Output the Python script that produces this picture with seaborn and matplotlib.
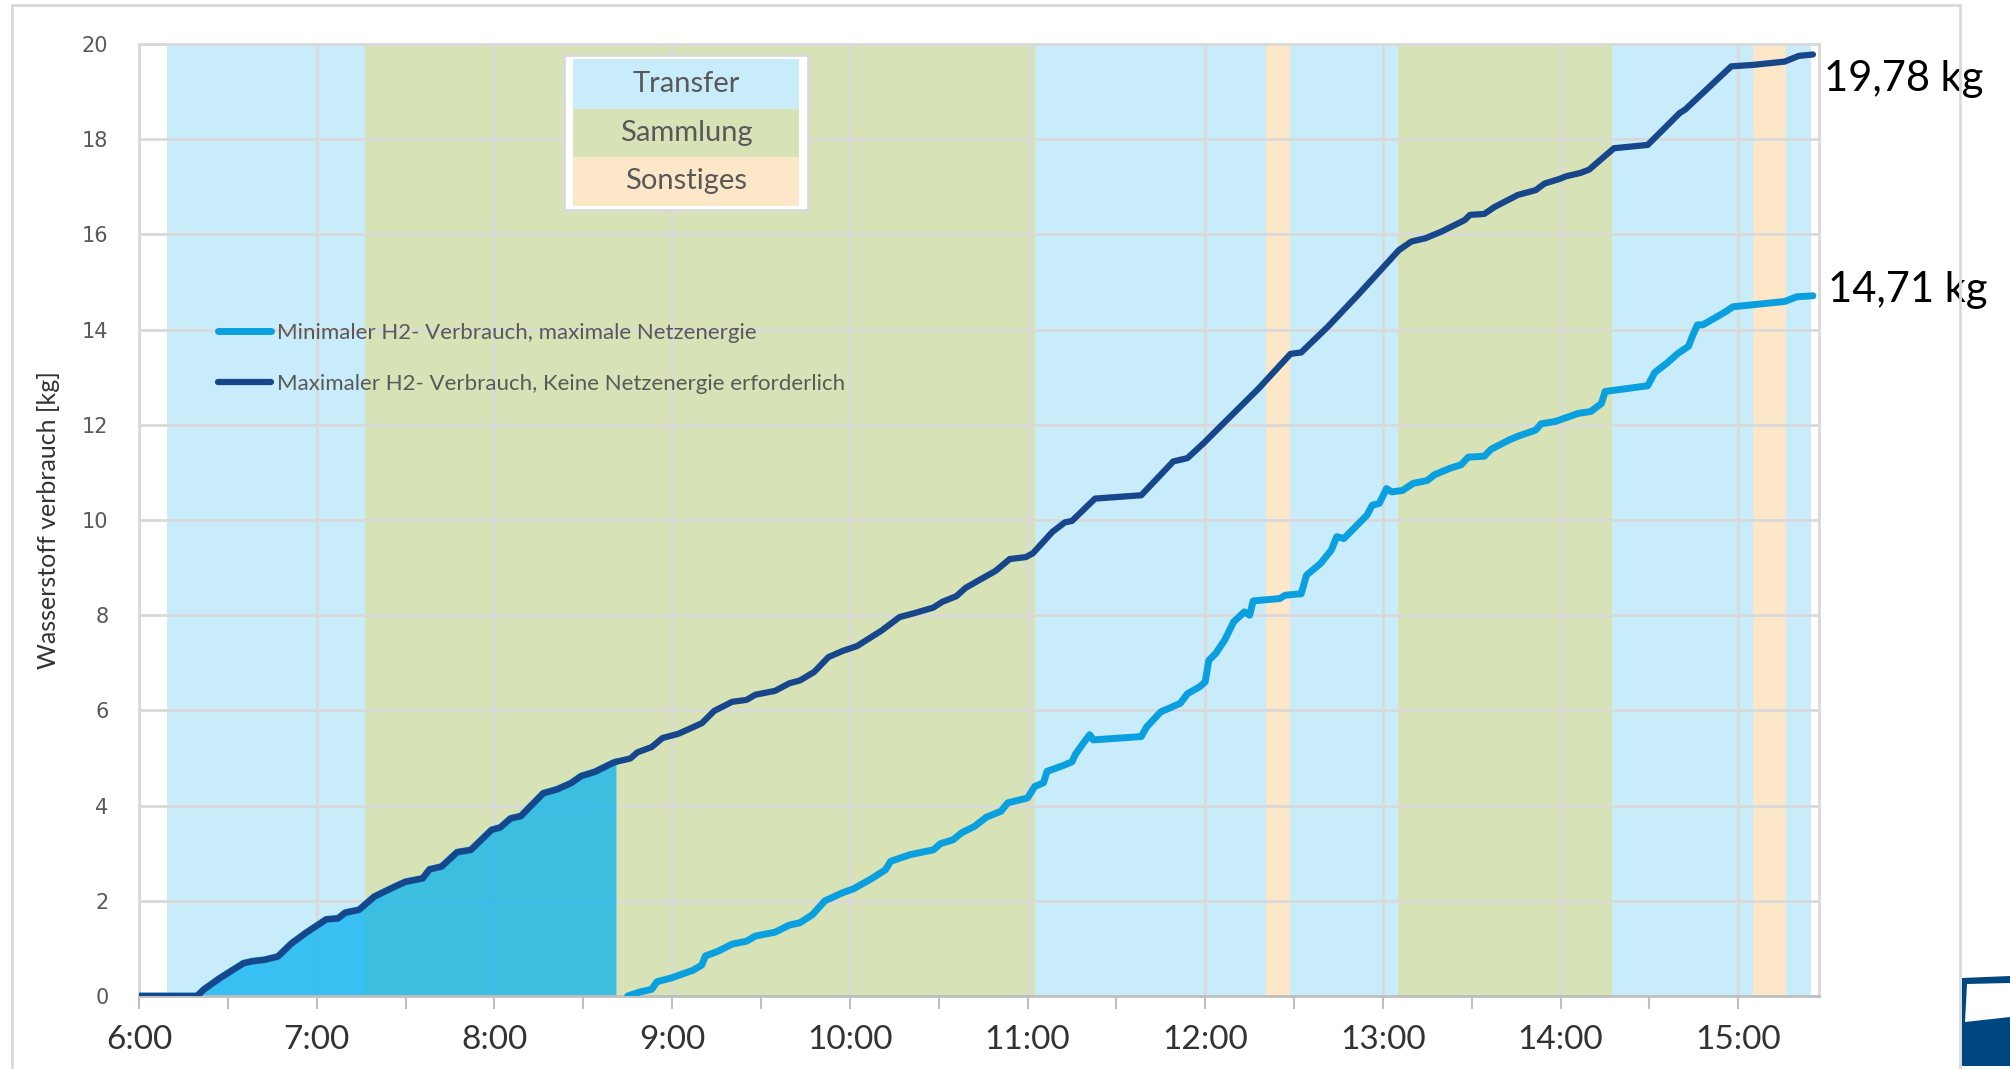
import numpy as np
import pandas as pd
import matplotlib
matplotlib.use("Agg")
import matplotlib.pyplot as plt
import seaborn as sns
from matplotlib.patches import Rectangle, Polygon
from matplotlib.ticker import FixedLocator, FuncFormatter

# hours of day (decimal) and cumulative H2 consumption [kg]
max_h = [6.00, 6.327, 6.366, 6.453, 6.512, 6.589, 6.638, 6.706, 6.782, 6.86, 6.937, 7.054, 7.12, 7.16,
         7.238, 7.325, 7.441, 7.5, 7.596, 7.635, 7.703, 7.79, 7.868, 7.984, 8.033, 8.091, 8.149, 8.275,
         8.352, 8.43, 8.488, 8.566, 8.663, 8.684, 8.765, 8.805, 8.885, 8.946, 9.036, 9.167, 9.237, 9.338,
         9.418, 9.469, 9.579, 9.66, 9.72, 9.80, 9.88, 9.96, 10.04, 10.18, 10.28, 10.36, 10.47, 10.52,
         10.60, 10.65, 10.72, 10.82, 10.90, 10.99, 11.03, 11.14, 11.21, 11.25, 11.38, 11.64, 11.82, 11.90,
         11.99, 12.10, 12.30, 12.48, 12.54, 12.69, 12.86, 13.09, 13.16, 13.24, 13.33, 13.46, 13.49, 13.57,
         13.63, 13.76, 13.86, 13.91, 13.99, 14.03, 14.11, 14.16, 14.30, 14.49, 14.67, 14.70, 14.96, 15.08,
         15.26, 15.34, 15.42]
max_v = [0, 0, 0.14, 0.37, 0.51, 0.69, 0.73, 0.76, 0.83, 1.11, 1.32, 1.61, 1.63, 1.75,
         1.81, 2.09, 2.30, 2.40, 2.47, 2.66, 2.72, 3.02, 3.07, 3.49, 3.54, 3.73, 3.78, 4.26,
         4.34, 4.47, 4.62, 4.71, 4.89, 4.92, 4.99, 5.12, 5.23, 5.42, 5.51, 5.73, 5.99, 6.18,
         6.22, 6.33, 6.41, 6.57, 6.63, 6.81, 7.12, 7.25, 7.35, 7.68, 7.96, 8.04, 8.16, 8.28,
         8.40, 8.57, 8.72, 8.93, 9.18, 9.22, 9.30, 9.75, 9.95, 9.98, 10.45, 10.52, 11.23, 11.30,
         11.61, 12.02, 12.76, 13.49, 13.52, 14.06, 14.73, 15.67, 15.85, 15.92, 16.06, 16.30, 16.41, 16.43,
         16.58, 16.83, 16.93, 17.07, 17.16, 17.22, 17.29, 17.36, 17.81, 17.88, 18.55, 18.62, 19.53, 19.56,
         19.63, 19.75, 19.78]

min_h = [8.75, 8.815, 8.885, 8.915, 8.996, 9.117, 9.167, 9.187, 9.258, 9.338, 9.418, 9.469, 9.579, 9.66,
         9.72, 9.79, 9.86, 9.96, 10.02, 10.12, 10.20, 10.23, 10.34, 10.47, 10.51, 10.58, 10.63, 10.70,
         10.77, 10.85, 10.89, 11.00, 11.04, 11.09, 11.11, 11.20, 11.25, 11.27, 11.31, 11.35, 11.37, 11.64,
         11.67, 11.75, 11.80, 11.86, 11.90, 11.97, 12.00, 12.02, 12.06, 12.11, 12.16, 12.22, 12.25, 12.27,
         12.42, 12.45, 12.54, 12.57, 12.65, 12.71, 12.74, 12.78, 12.91, 12.94, 12.98, 13.02, 13.05, 13.11,
         13.17, 13.25, 13.29, 13.38, 13.44, 13.48, 13.57, 13.61, 13.71, 13.76, 13.86, 13.89, 13.97, 14.10,
         14.17, 14.23, 14.25, 14.45, 14.49, 14.53, 14.60, 14.66, 14.72, 14.74, 14.77, 14.80, 14.88, 14.93,
         14.97, 15.26, 15.33, 15.42]
min_v = [0, 0.08, 0.14, 0.30, 0.38, 0.54, 0.65, 0.84, 0.94, 1.09, 1.15, 1.26, 1.34, 1.49,
         1.54, 1.71, 2.00, 2.17, 2.25, 2.46, 2.65, 2.83, 2.97, 3.07, 3.20, 3.28, 3.43, 3.56,
         3.76, 3.88, 4.06, 4.16, 4.40, 4.48, 4.72, 4.84, 4.92, 5.08, 5.29, 5.49, 5.38, 5.45,
         5.65, 5.97, 6.05, 6.15, 6.35, 6.50, 6.60, 7.05, 7.20, 7.48, 7.86, 8.07, 8.00, 8.30,
         8.35, 8.42, 8.45, 8.84, 9.09, 9.37, 9.65, 9.61, 10.10, 10.31, 10.35, 10.66, 10.59, 10.62,
         10.77, 10.83, 10.95, 11.09, 11.16, 11.32, 11.34, 11.49, 11.68, 11.76, 11.89, 12.02, 12.07, 12.24,
         12.28, 12.45, 12.70, 12.80, 12.82, 13.10, 13.30, 13.50, 13.65, 13.85, 14.10, 14.10, 14.27, 14.38,
         14.48, 14.59, 14.69, 14.71]

fill_end = 8.684  # shared stretch of both scenarios, shaded

# operating phases (start, end, kind)
phase_start = [6.16, 7.27, 11.04, 12.34, 12.475, 13.085, 14.29, 15.08, 15.27]
phase_end = [7.27, 11.04, 12.34, 12.475, 13.085, 14.29, 15.08, 15.27, 15.41]
phase_kind = ["Transfer", "Sammlung", "Transfer", "Sonstiges", "Transfer", "Sammlung",
              "Transfer", "Sonstiges", "Transfer"]
phase_names = ["Transfer", "Sammlung", "Sonstiges"]
phase_colors = {"Transfer": "#c9ecfb", "Sammlung": "#d7e3b7", "Sonstiges": "#fde7c9"}

lbl_min = "Minimaler H2- Verbrauch, maximale Netzenergie"
lbl_max = "Maximaler H2- Verbrauch, Keine Netzenergie erforderlich"
end_labels = ["19,78 kg", "14,71 kg"]

c_min = "#0aa0e0"
c_max = "#17468a"
grey = "#595959"

sns.set_style("white")
plt.rcParams["font.family"] = ["Lato", "DejaVu Sans"]

W, H = 2010, 1069
fig = plt.figure(figsize=(W / 100, H / 100), dpi=100)
ax = fig.add_axes([139 / W, 1 - 996 / H, (1819 - 139) / W, (996 - 44) / H])

for s, e, k in zip(phase_start, phase_end, phase_kind):
    ax.axvspan(s, e, color=phase_colors[k], lw=0, zorder=0)

ax.set_axisbelow(True)
ax.grid(True, color="#d9d9d9", lw=2)

df_max = pd.DataFrame({"h": max_h, "v": max_v})
df_min = pd.DataFrame({"h": min_h, "v": min_v})
shared = df_max[df_max["h"] <= fill_end]

ax.fill_between(shared["h"], 0, shared["v"], color="#00b0f0", alpha=0.72, lw=0, zorder=2)
sns.lineplot(data=shared, x="h", y="v", ax=ax, color=c_min, lw=5, sort=False, estimator=None,
             zorder=3, legend=False)
sns.lineplot(data=df_min, x="h", y="v", ax=ax, color=c_min, lw=5, sort=False, estimator=None,
             zorder=3, label=lbl_min, solid_capstyle="round")
sns.lineplot(data=df_max, x="h", y="v", ax=ax, color=c_max, lw=4.5, sort=False, estimator=None,
             zorder=4, label=lbl_max, solid_capstyle="round")

ax.set_xlim(6.0, 15.454)
ax.set_ylim(0, 20)
ax.xaxis.set_major_locator(FixedLocator(list(range(6, 16))))
ax.xaxis.set_minor_locator(FixedLocator([x + 0.5 for x in range(6, 16)]))
ax.xaxis.set_major_formatter(FuncFormatter(lambda x, p: f"{int(round(x))}:00"))
ax.set_yticks(range(0, 21, 2))
ax.tick_params(axis="x", which="both", bottom=True, length=9, width=1.5, color="#bfbfbf",
               labelsize=24, labelcolor="#333333", pad=12)
ax.tick_params(axis="y", length=0, labelsize=15, labelcolor=grey, pad=22)
for t in ax.get_yticklabels():
    t.set_fontfamily("DejaVu Sans")
for sp in ax.spines.values():
    sp.set_color("#d9d9d9")
    sp.set_linewidth(2)
ax.spines["bottom"].set_color("#bfbfbf")

ax.set_xlabel("")
ax.set_ylabel("Wasserstoff verbrauch [kg]", fontsize=18, color="#333333")
ax.yaxis.set_label_coords(-0.047, 0.5)

leg = ax.legend(loc="upper left", bbox_to_anchor=(0.035, 0.728), frameon=False, fontsize=16,
                handlelength=2.4, handletextpad=0.25, labelspacing=1.4)
for t in leg.get_texts():
    t.set_color(grey)

# end values
ax.annotate(end_labels[0], xy=(max_h[-1], max_v[-1]), xytext=(8, -18), textcoords="offset points",
            fontsize=30, color="black", va="center", annotation_clip=False)
ax.annotate(end_labels[1], xy=(min_h[-1], min_v[-1]), xytext=(11, 4), textcoords="offset points",
            fontsize=30, color="black", va="center", annotation_clip=False)

# phase legend box (figure pixels)
def fx(x):
    return x / W

def fy(y):
    return 1 - y / H

fig.add_artist(Rectangle((fx(564), fy(210)), fx(808) - fx(564), fy(55) - fy(210),
                         transform=fig.transFigure, facecolor="white", edgecolor="#d9d9d9", lw=2))
rows = [(59, 109), (109, 157), (157, 206)]
for name, (y0, y1) in zip(phase_names, rows):
    fig.add_artist(Rectangle((fx(573), fy(y1)), fx(799) - fx(573), fy(y0) - fy(y1),
                             transform=fig.transFigure, facecolor=phase_colors[name], lw=0))
    fig.text(fx(686), fy((y0 + y1) / 2), name, ha="center", va="center", fontsize=21,
             color=grey)

# chart frame and cut logo
fig.add_artist(Rectangle((fx(12), fy(1080)), fx(1960) - fx(12), fy(5) - fy(1080),
                         transform=fig.transFigure, fill=False, edgecolor="#d9d9d9", lw=2))
fig.add_artist(Polygon([(fx(1962), fy(978)), (fx(2010), fy(976)), (fx(2010), fy(1066)),
                        (fx(1962), fy(1066))], closed=True, transform=fig.transFigure,
                       facecolor="#00467f", lw=0))
fig.add_artist(Polygon([(fx(1967), fy(984)), (fx(2010), fy(983)), (fx(2010), fy(1017)),
                        (fx(1965), fy(1022))], closed=True, transform=fig.transFigure,
                       facecolor="white", lw=0))

fig.savefig("out.png", dpi=100)
